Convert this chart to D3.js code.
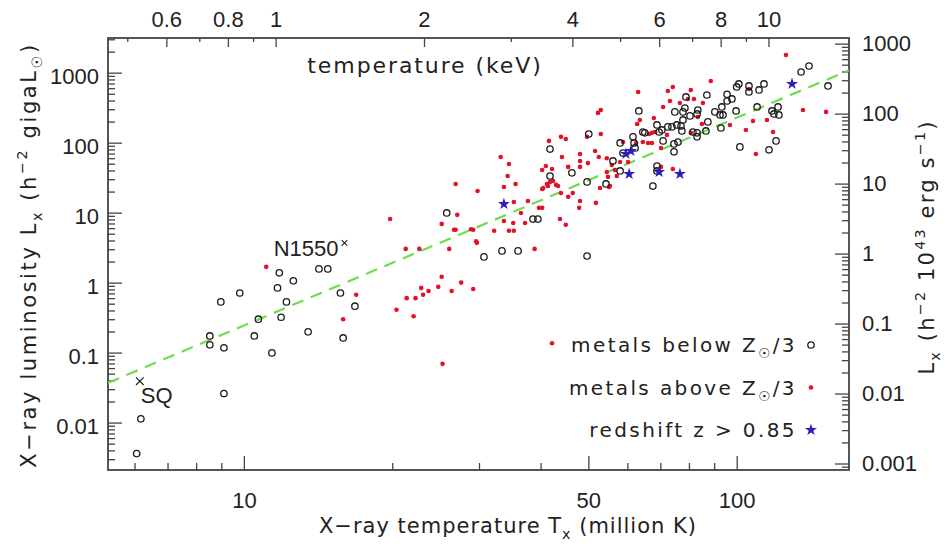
<!DOCTYPE html>
<html>
<head>
<meta charset="utf-8">
<script src="https://cdn.jsdelivr.net/npm/d3@7"></script>
<style>
  body { margin: 0; background: #fff; }
  .tick text { font-family: "Liberation Sans", Arial, sans-serif; font-size: 22px; fill: #222; }
  .title { font-family: "DejaVu Sans", sans-serif; fill: #222; }
</style>
</head>
<body>
<div id="chart"></div>
<script>
// temperature in million K, luminosity in h^-2 gigaLsun

// open circles
const lowMetal = [
  [6.18,0.0113],[6.06,0.0036],[11.8,1.38],[14.2,1.57],[14.8,1.57],[12.6,1.06],[11.7,0.84],[9.81,0.71],
  [8.98,0.53],[12.2,0.53],[15.7,0.71],[16.8,0.46],[10.7,0.30],[11.9,0.32],[13.5,0.198],[8.53,0.173],
  [8.53,0.129],[10.5,0.173],[9.11,0.117],[15.9,0.162],[11.4,0.099],[9.11,0.026],
  [25.8,9.9],[30.7,2.33],[33.4,2.84],[36.0,2.84],[49.7,2.40],[38.6,8.1],[39.5,8.1],[41.8,81],[50.1,133],
  [41.8,33.4],[46.3,37],[49.7,27.5],[56.1,54.8],[54.3,25.7],[58.0,39.4],[58.0,99],[63.3,284],[64.5,142],
  [61.6,121],[61.9,99],[58.8,71],[62.2,84],
  [68.9,46.4],[68.9,39.4],[67.6,24.0],[68.9,179],[70.5,152],[72.5,168],[73.9,168],[75.6,179],[77.1,173],
  [77.4,147],[77.8,211],[69.6,142],[65.1,138],[70.9,106],[74.6,96],[76.0,102],[74.6,74],
  [78.9,450],[78.5,313],[77.8,275],[83.4,293],[74.9,275],[80.4,241],[83.1,257],[87.4,198],[83.1,138],
  [83.1,121],[86.6,147],[81.5,142],[87.0,480],[95.6,491],[97.8,421],[95.6,394],[93.3,324],[90.3,275],
  [92.5,249],[93.8,249],[99.7,284],[92.9,162],
  [101,690],[100,625],[105.9,646],[105.9,530],[111,566],[113.6,690],[110,324],[117.9,284],[121.3,324],
  [119,257],[121.8,249],[120.2,106],[101.5,87],[116.3,79],[135.1,1023],[140.2,1246],[153.2,646]
];

// red dots
const highMetal = [
  [11.1,1.68],[16.9,0.67],[15.9,0.30],
  [19.8,8.1],[26.9,25.7],[27.1,9.3],[25.2,6.9],[26.7,5.7],[26.9,5.7],[21.3,3.03],[22.7,3.03],[26.1,3.03],
  [25.2,1.21],[38.9,3.03],[28.9,5.8],[29.2,5.7],[29.6,3.9],[29.7,3.7],[29.8,20.4],[32.2,5.5],[33.2,62.5],
  [34.3,33.4],[34.5,49.6],[33.7,23.3],[33.7,7.6],[35.3,14.2],[35.6,25.7],[34.5,5.5],[35.3,5.5],[35.2,7.1],
  [36.5,9.9],[37.2,7.1],[39.7,11.7],[40.3,11.7],[37.7,14.7],[40.3,40.7],[40.5,22.5],[41.2,25.7],[41.8,27.5],
  [40.3,21.8],[43.0,24.9],[43.8,8.1],[45.0,6.7],[44.0,19.1],[45.5,16.8],[46.5,19.1],[47.9,11.7],[51.8,13.8],
  [41.6,106],[44.0,121],[45.0,113],[49.7,121],[53.0,133],[52.3,266],[53.0,293],[48.1,69],[48.1,54.8],
  [48.1,45],[44.2,62.5],[45.5,45],[49.9,51],[51.6,76],[52.5,62.5],[54.5,60],[54.5,38.1],[54.8,32.4],
  [55.1,23.3],[58.0,53],[60.2,53],[63.1,530],[62.8,185],[63.6,211],[62.5,99],[64.5,102],[41.0,46.4],
  [42.2,42],[41.4,24.0],[42.4,28.4],[43.4,24.0],[48.1,14.7],[52.8,22.5],[55.8,48],[56.6,40.7],[57.1,33.4],
  [55.3,24.0],
  [88.6,760],[74.2,625],[72.5,548],[80.7,566],[73.2,394],[76.7,369],[79.6,421],[81.9,421],[85.4,369],
  [70.9,324],[83.4,233],[85.0,185],[96.9,179],[107.9,204],[115.2,211],[104.4,152],[118.5,142],[109.4,69],
  [67.9,225],[66.4,133],[67.3,138],[68.3,142],[66.1,99],[67.3,99],[58.8,102],[70.2,84],[72.2,129],
  [80.7,138],[70.2,45],[74.2,42],[136.3,293],[151.8,275],[125.9,1790],[105.9,585],[25.3,0.069],
  [27.6,1.0],[29.2,0.81],[24.8,0.87],[23.7,0.76],[22.9,0.84],[23.1,0.67],[22.3,0.60],[21.4,0.60],
  [26.4,0.76],[20.4,0.41],[22.1,0.33],[42.2,0.136]
];

// blue stars, z > 0.85
const highZ = [[33.7,13.3],[60.5,35.7],[59.6,69],[61.0,76],[69.6,38.1],[76.7,35.7],[129.5,690]];

// named groups
const named = [
  { name: "SQ", t: 6.15, l: 0.039 },
  { name: "N1550", t: 16.0, l: 3.7 }
];

// dashed fit line end points
const fitLine = [[5.3,0.037],[169,1080]];

// axis ticks
const xMajor = [10, 50, 100];
const keVMajor = [0.6, 0.8, 1, 2, 4, 6, 8, 10];
const lMajor = [0.01, 0.1, 1, 10, 100, 1000];
const lRightMajor = [0.001, 0.01, 0.1, 1, 10, 100, 1000];

const legendItems = [
  { text: [["metals below Z", null], ["☉", "sub"], ["/3", null]], mark: "circle" },
  { text: [["metals above Z", null], ["☉", "sub"], ["/3", null]], mark: "dot" },
  { text: [["redshift  z > 0.85", null]], mark: "star" }
];

const W = 947, H = 548;
const svg = d3.select("#chart").append("svg").attr("width", W).attr("height", H);

const pl = 108, pr = 849, pt = 38, pb = 470;
const kev = 11.6;     // million K per keV
const lumUnit = 2.6;  // gigaLsun per 1e43 erg/s

const x = d3.scaleLog().domain([5.3, 169]).range([pl, pr]);
const y = d3.scaleLog().domain([0.0021, 3130]).range([pb, pt]);
const xTop = d3.scaleLog().domain([5.3 / kev, 169 / kev]).range([pl, pr]);
const yRight = d3.scaleLog().domain([0.0021 / lumUnit, 3130 / lumUnit]).range([pb, pt]);

const fmt = d => d >= 1 ? d3.format("d")(d) : String(d);
const axisColor = "#444";

function styleAxis(g) {
  g.select(".domain").remove();
  g.selectAll(".tick line").attr("stroke", axisColor).attr("stroke-width", 1.3);
}

// minor ticks
svg.append("g").attr("transform", `translate(0,${pb})`)
  .call(d3.axisBottom(x).tickValues(x.ticks().filter(d => !xMajor.includes(d))).tickSize(-7).tickFormat(""))
  .call(styleAxis);
svg.append("g").attr("transform", `translate(0,${pt})`)
  .call(d3.axisTop(xTop).tickValues(xTop.ticks().filter(d => !keVMajor.includes(+d.toFixed(1)))).tickSize(-4).tickFormat(""))
  .call(styleAxis);
svg.append("g").attr("transform", `translate(${pl},0)`)
  .call(d3.axisLeft(y).tickValues(y.ticks().filter(d => !lMajor.includes(d))).tickSize(-7).tickFormat(""))
  .call(styleAxis);
svg.append("g").attr("transform", `translate(${pr},0)`)
  .call(d3.axisRight(yRight).tickValues(yRight.ticks().filter(d => !lRightMajor.includes(d))).tickSize(-7).tickFormat(""))
  .call(styleAxis);

// major ticks with labels
svg.append("g").attr("transform", `translate(0,${pb})`)
  .call(d3.axisBottom(x).tickValues(xMajor).tickSize(-14).tickPadding(22).tickFormat(fmt))
  .call(styleAxis);
svg.append("g").attr("transform", `translate(0,${pt})`)
  .call(d3.axisTop(xTop).tickValues(keVMajor).tickSize(-9).tickPadding(11).tickFormat(fmt))
  .call(styleAxis);
svg.append("g").attr("transform", `translate(${pl},0)`)
  .call(d3.axisLeft(y).tickValues(lMajor).tickSize(-14).tickPadding(9).tickFormat(fmt))
  .call(styleAxis)
  .selectAll("text").attr("dy", "0.5em");
svg.append("g").attr("transform", `translate(${pr},0)`)
  .call(d3.axisRight(yRight).tickValues(lRightMajor).tickSize(-14).tickPadding(13).tickFormat(fmt))
  .call(styleAxis);

// frame
svg.append("rect")
  .attr("x", pl).attr("y", pt).attr("width", pr - pl).attr("height", pb - pt)
  .attr("fill", "none").attr("stroke", axisColor).attr("stroke-width", 1.8);

// fit line
svg.append("path")
  .datum(fitLine)
  .attr("d", d3.line().x(d => x(d[0])).y(d => y(d[1])))
  .attr("fill", "none")
  .attr("stroke", "#6fdc4f")
  .attr("stroke-width", 2.2)
  .attr("stroke-dasharray", "12,8");

// points
svg.append("g").selectAll("circle")
  .data(highMetal)
  .join("circle")
  .attr("cx", d => x(d[0])).attr("cy", d => y(d[1]))
  .attr("r", 2.3)
  .attr("fill", "#e3122a");

svg.append("g").selectAll("circle")
  .data(lowMetal)
  .join("circle")
  .attr("cx", d => x(d[0])).attr("cy", d => y(d[1]))
  .attr("r", 3.2)
  .attr("fill", "none")
  .attr("stroke", "#1c1c1c")
  .attr("stroke-width", 1.3);

const star = d3.symbol().type(d3.symbolStar).size(45);
svg.append("g").selectAll("path")
  .data(highZ)
  .join("path")
  .attr("transform", d => `translate(${x(d[0])},${y(d[1])})`)
  .attr("d", star)
  .attr("fill", "#2b1fb8");

// named systems
const cross = d3.symbol().type(d3.symbolTimes);
svg.append("g").selectAll("path")
  .data(named)
  .join("path")
  .attr("transform", d => `translate(${x(d.t)},${y(d.l)})`)
  .attr("d", d => cross.size(d.name === "SQ" ? 40 : 22)())
  .attr("fill", "none")
  .attr("stroke", "#222")
  .attr("stroke-width", 1.2);

svg.append("text")
  .attr("x", x(named[0].t) + 1).attr("y", y(named[0].l) + 22)
  .style("font-family", "Liberation Sans, Arial, sans-serif").style("font-size", "22px").attr("fill", "#222")
  .text("SQ");
svg.append("text")
  .attr("x", x(named[1].t) - 6).attr("y", y(named[1].l) + 13)
  .attr("text-anchor", "end")
  .style("font-family", "Liberation Sans, Arial, sans-serif").style("font-size", "22px").attr("fill", "#222")
  .text("N1550");

// rich text with sub / superscripts
function rich(sel, parts, size) {
  let cur = 0;
  parts.forEach(([s, k]) => {
    const want = k === "sub" ? 0.3 * size : k === "sup" ? -0.42 * size : 0;
    const t = sel.append("tspan").text(s).attr("dy", want - cur);
    if (k) t.style("font-size", (size * 0.68) + "px");
    cur = want;
  });
}

// titles
const xt = svg.append("text").attr("class", "title")
  .attr("x", 508).attr("y", 533).attr("text-anchor", "middle")
  .style("font-size", "21px").style("letter-spacing", "1px");
rich(xt, [["X−ray temperature  T", null], ["x", "sub"], ["  (million K)", null]], 21);

const yt = svg.append("text").attr("class", "title")
  .attr("transform", "translate(36,255) rotate(-90)").attr("text-anchor", "middle")
  .style("font-size", "21px").style("letter-spacing", "2.6px");
rich(yt, [["X−ray luminosity  L", null], ["x", "sub"], ["  (h", null], ["−2", "sup"], [" gigaL", null], ["☉", "sub"], [")", null]], 21);

const yr = svg.append("text").attr("class", "title")
  .attr("transform", "translate(934,247) rotate(-90)").attr("text-anchor", "middle")
  .style("font-size", "21px").style("letter-spacing", "2.2px");
rich(yr, [["L", null], ["x", "sub"], ["  (h", null], ["−2", "sup"], [" 10", null], ["43", "sup"], [" erg s", null], ["−1", "sup"], [")", null]], 21);

svg.append("text").attr("class", "title")
  .attr("x", 425).attr("y", 73).attr("text-anchor", "middle")
  .style("font-size", "22px").style("letter-spacing", "1.9px")
  .text("temperature  (keV)");

// legend
const lg = svg.append("g");
legendItems.forEach((it, i) => {
  const cy = 345 + i * 42.5;
  const t = lg.append("text").attr("class", "title")
    .attr("x", 797).attr("y", cy + 7).attr("text-anchor", "end")
    .style("font-size", "20px").style("letter-spacing", "2.4px");
  rich(t, it.text, 20);
  if (it.mark === "circle") {
    lg.append("circle").attr("cx", 811).attr("cy", cy).attr("r", 3.2)
      .attr("fill", "none").attr("stroke", "#1c1c1c").attr("stroke-width", 1.3);
  } else if (it.mark === "dot") {
    lg.append("circle").attr("cx", 811).attr("cy", cy).attr("r", 2.3).attr("fill", "#e3122a");
  } else {
    lg.append("path").attr("transform", `translate(811,${cy})`).attr("d", star).attr("fill", "#2b1fb8");
  }
});
</script>
</body>
</html>
